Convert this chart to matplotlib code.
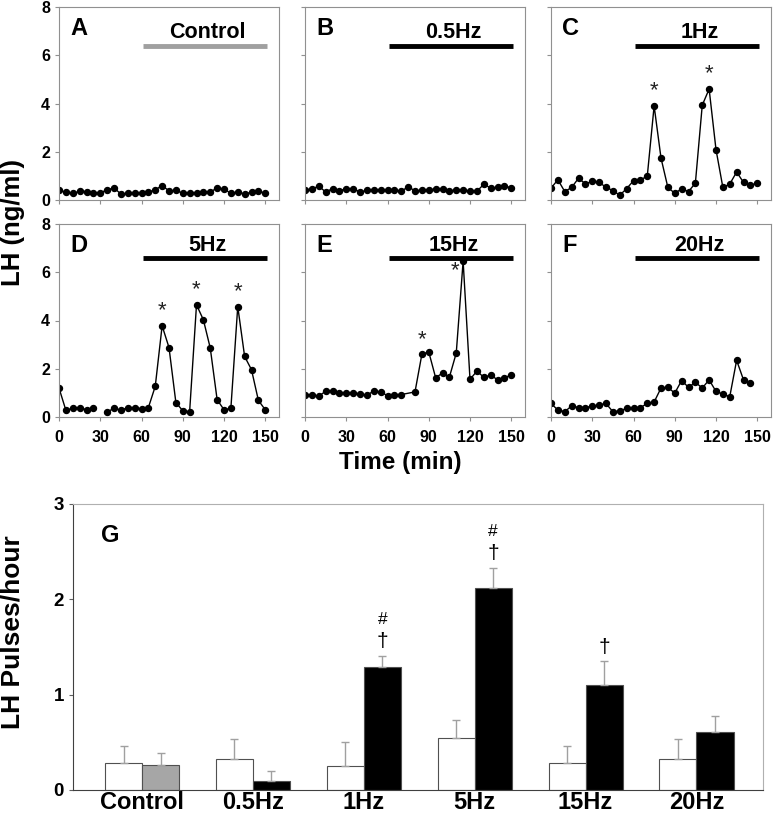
import numpy as np
import matplotlib.pyplot as plt

plt.rcParams['font.family'] = ['Liberation Sans', 'DejaVu Sans']

# LH time courses (ng/ml), sampled every 5 min
time = np.arange(0, 155, 5)
lh_a = [0.4, 0.32, 0.27, 0.36, 0.35, 0.3, 0.3, 0.42, 0.5, 0.25, 0.27, 0.28, 0.28, 0.33, 0.42, 0.6,
        0.38, 0.4, 0.28, 0.3, 0.3, 0.33, 0.33, 0.5, 0.45, 0.28, 0.33, 0.25, 0.32, 0.36, 0.28]
lh_b = [0.42, 0.45, 0.58, 0.33, 0.47, 0.38, 0.47, 0.47, 0.33, 0.4, 0.42, 0.42, 0.4, 0.42, 0.36, 0.55,
        0.38, 0.4, 0.43, 0.45, 0.45, 0.37, 0.43, 0.4, 0.38, 0.36, 0.65, 0.5, 0.52, 0.58, 0.5]
lh_c = [0.49, 0.84, 0.35, 0.52, 0.9, 0.67, 0.77, 0.73, 0.53, 0.39, 0.2, 0.47, 0.8, 0.84, 0.98, 3.9,
        1.74, 0.52, 0.28, 0.46, 0.35, 0.7, 3.93, 4.6, 2.09, 0.52, 0.66, 1.16, 0.73, 0.61, 0.7]
lh_d = [1.2, 0.28, 0.36, 0.39, 0.3, 0.36, np.nan, 0.21, 0.36, 0.28, 0.39, 0.39, 0.34, 0.39, 1.27, 3.78,
        2.88, 0.6, 0.26, 0.22, 4.65, 4.03, 2.86, 0.72, 0.3, 0.36, 4.58, 2.51, 1.96, 0.69, 0.3]
lh_e = [0.9, 0.93, 0.86, 1.07, 1.08, 1.0, 1.0, 1.0, 0.96, 0.9, 1.08, 1.03, 0.89, 0.93, 0.93, np.nan,
        1.04, 2.6, 2.7, 1.63, 1.82, 1.65, 2.65, 6.46, 1.56, 1.9, 1.65, 1.73, 1.55, 1.62, 1.75]
lh_f = [0.56, 0.29, 0.22, 0.46, 0.39, 0.39, 0.45, 0.5, 0.56, 0.22, 0.25, 0.36, 0.36, 0.39, 0.56, 0.62,
        1.2, 1.23, 0.99, 1.51, 1.23, 1.44, 1.2, 1.54, 1.06, 0.95, 0.84, 2.35, 1.54, 1.4]

panel_letters = ['A', 'B', 'C', 'D', 'E', 'F']
stim_labels = ['Control', '0.5Hz', '1Hz', '5Hz', '15Hz', '20Hz']
series = [lh_a, lh_b, lh_c, lh_d, lh_e, lh_f]
star_times = [[], [], [75, 115], [75, 100, 130], [85, 115], []]
bridge_gap = [False, False, False, False, True, False]

# pulse frequency (panel G)
groups = ['Control', '0.5Hz', '1Hz', '5Hz', '15Hz', '20Hz']
pre_mean = [0.28, 0.33, 0.25, 0.55, 0.28, 0.33]
pre_err = [0.185, 0.21, 0.25, 0.18, 0.185, 0.21]
stim_mean = [0.26, 0.09, 1.29, 2.12, 1.105, 0.61]
stim_err = [0.125, 0.106, 0.12, 0.21, 0.245, 0.17]
sig_marks = ['', '', '\u2020\n#', '\u2020\n#', '\u2020', '']

fig = plt.figure(figsize=(7.75, 8.18), dpi=100)

lefts = [59, 305, 551]
tops = [7, 224]
for k in range(6):
    row, col = divmod(k, 3)
    ax = fig.add_axes([lefts[col] / 775, 1 - (tops[row] + 193) / 818, 220 / 775, 193 / 818])
    y = np.array(series[k], dtype=float)
    t = time[:len(y)]
    if bridge_gap[k]:
        ok = ~np.isnan(y)
        ax.plot(t[ok], y[ok], '-o', color='black', lw=1, ms=4.3)
    else:
        ax.plot(t, y, '-o', color='black', lw=1, ms=4.3)
    for st in star_times[k]:
        v = y[list(t).index(st)]
        if v > 6:
            ax.text(st - 6, v - 0.4, '*', ha='center', va='center', fontsize=16, color='#222222')
        else:
            ax.text(st, v + 0.62, '*', ha='center', va='center', fontsize=16, color='#222222')
    bar_y = 6.4 if row == 0 else 6.6
    bar_col = '#a0a0a0' if k == 0 else 'black'
    ax.plot([61, 151], [bar_y, bar_y], color=bar_col, lw=3.5, solid_capstyle='butt')
    ax.text(108, bar_y + 0.3, stim_labels[k], ha='center', va='baseline',
            fontsize=15.5, fontweight='bold')
    ax.text(0.05, 0.95, panel_letters[k], transform=ax.transAxes, ha='left', va='top',
            fontsize=17, fontweight='bold')
    ax.set_xlim(0, 160)
    ax.set_ylim(0, 8)
    ax.set_xticks([0, 30, 60, 90, 120, 150])
    ax.set_yticks([0, 2, 4, 6, 8])
    for s in ax.spines.values():
        s.set_color('#909090')
    ax.tick_params(direction='out', length=3, color='#909090', labelsize=11.5)
    ax.tick_params(axis='x', pad=6)
    if col != 0:
        ax.set_yticklabels([])
    if row == 0:
        ax.set_xticklabels([])
    for lab in ax.get_xticklabels() + ax.get_yticklabels():
        lab.set_fontweight('bold')

fig.text(13 / 775, 1 - 223 / 818, 'LH (ng/ml)', rotation=90, ha='center', va='center',
         fontsize=18.5, fontweight='bold')
fig.text(400 / 775, 1 - 462 / 818, 'Time (min)', ha='center', va='center',
         fontsize=17.5, fontweight='bold')

# panel G
axg = fig.add_axes([73 / 775, 1 - 790 / 818, 690 / 775, 286 / 818])
x = np.arange(len(groups))
w = 0.334
axg.bar(x - w / 2, pre_mean, w, color='white', edgecolor='#505050', lw=0.8,
        yerr=[np.zeros(len(pre_err)), pre_err], ecolor='#a0a0a0', capsize=3,
        error_kw={'elinewidth': 1, 'capthick': 1})
stim_colors = ['#a6a6a6'] + ['black'] * (len(groups) - 1)
axg.bar(x + w / 2, stim_mean, w, color=stim_colors, edgecolor='#505050', lw=0.8,
        yerr=[np.zeros(len(stim_err)), stim_err], ecolor='#a0a0a0', capsize=3,
        error_kw={'elinewidth': 1, 'capthick': 1})
for i, m in enumerate(sig_marks):
    if not m:
        continue
    top = stim_mean[i] + stim_err[i]
    parts = m.split('\n')
    axg.text(x[i] + w / 2, top + 0.15, parts[0], ha='center', va='center', fontsize=15)
    if len(parts) > 1:
        axg.text(x[i] + w / 2, top + 0.38, parts[1], ha='center', va='center', fontsize=12.5)
axg.text(0.04, 0.93, 'G', transform=axg.transAxes, ha='left', va='top',
         fontsize=17, fontweight='bold')
axg.set_xlim(-0.623, 5.6)
axg.set_ylim(0, 3)
axg.set_yticks([0, 1, 2, 3])
axg.set_xticks(x)
axg.set_xticklabels(groups, fontsize=17, fontweight='bold')
axg.tick_params(axis='x', length=0, pad=1)
axg.tick_params(axis='y', direction='out', length=3, color='#606060', labelsize=13.5)
for lab in axg.get_yticklabels():
    lab.set_fontweight('bold')
axg.spines['left'].set_color('#404040')
axg.spines['bottom'].set_color('#404040')
axg.spines['top'].set_color('#b0b0b0')
axg.spines['right'].set_color('#b0b0b0')
fig.text(13 / 775, 1 - 632 / 818, 'LH Pulses/hour', rotation=90, ha='center', va='center',
         fontsize=19, fontweight='bold')

fig.savefig('out.png', dpi=100)
